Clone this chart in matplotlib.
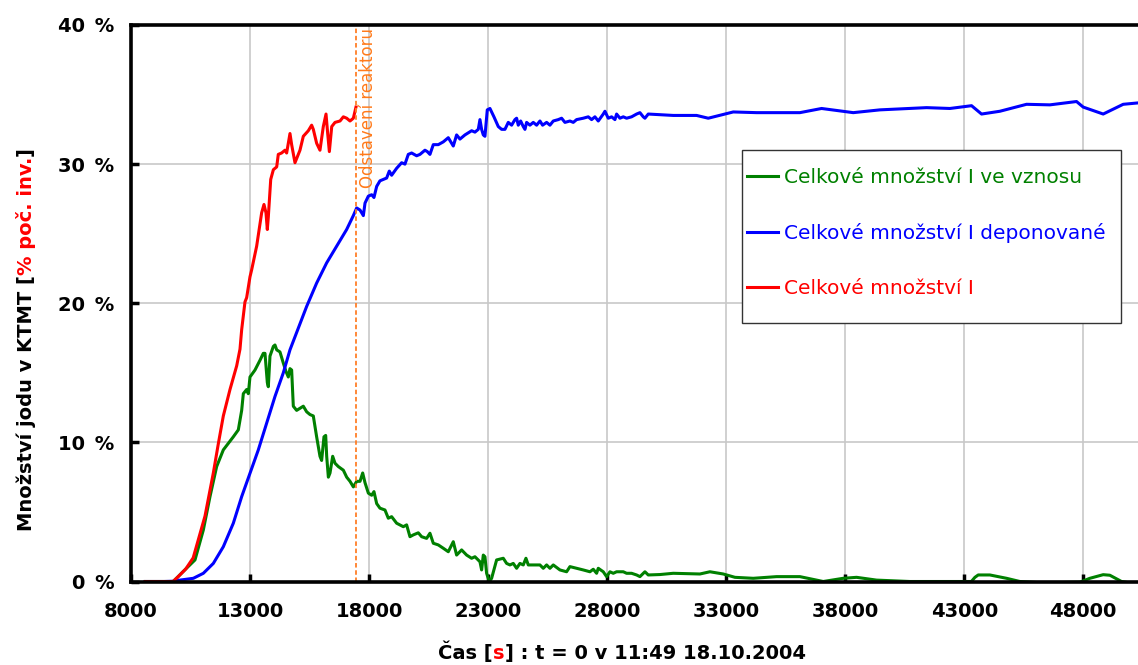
import numpy as np
import matplotlib
matplotlib.use("Agg")
import matplotlib.pyplot as plt
from matplotlib.patches import Rectangle

# time axis [s], values in % of initial inventory
t_green = [8600, 9770, 9980, 10300, 10688, 11038, 11318, 11598, 11878, 12298,
           12508, 12649, 12718, 12858, 12928, 12998, 13208, 13418, 13558, 13628,
           13726, 13768, 13838, 13980, 14048, 14120, 14258, 14398, 14510, 14608,
           14678, 14748, 14818, 14958, 15238, 15378, 15518, 15658, 15798, 15938,
           16008, 16106, 16178, 16220, 16290, 16360, 16472, 16570, 16710, 16920,
           17060, 17200, 17340, 17480, 17620, 17732, 17830, 17970, 18110, 18206,
           18320, 18458, 18668, 18808, 18948, 19158, 19438, 19578, 19718, 19858,
           20068, 20208, 20418, 20558, 20698, 20908, 21118, 21328, 21538, 21678,
           21888, 22098, 22308, 22448, 22658, 22728, 22798, 22868, 22938, 23050,
           23148, 23358, 23638, 23778, 23918, 24058, 24198, 24338, 24478, 24590,
           24688, 24898, 25178, 25318, 25458, 25598, 25738, 26018, 26298, 26438,
           26718, 26998, 27278, 27418, 27558, 27628, 27838, 27978, 28118, 28258,
           28398, 28678, 28818, 29028, 29238, 29378, 29588, 29728, 30218, 30778,
           31898, 32318, 32878, 33370, 34138, 35118, 36098, 37078, 37918, 38478,
           39318, 40718, 42398, 43300, 43450, 43588, 44078, 44778, 45338, 46300,
           47858, 48278, 48838, 49118, 49608, 50300]
v_green = [0, 0, 0.35, 0.9, 1.55, 3.7, 6.1, 8.26, 9.46, 10.4,
           10.9, 12.3, 13.5, 13.8, 13.5, 14.7, 15.2, 15.9, 16.4, 16.4,
           14.3, 14.0, 16.2, 16.9, 17.0, 16.65, 16.5, 15.7, 15.1, 14.7,
           15.3, 15.2, 12.6, 12.3, 12.6, 12.2, 12.0, 11.9, 10.4, 9.0,
           8.7, 10.4, 10.5, 9.0, 7.5, 7.8, 9.0, 8.5, 8.26, 8.0,
           7.5, 7.2, 6.8, 7.2, 7.2, 7.8, 7.1, 6.35, 6.2, 6.46,
           5.6, 5.27, 5.14, 4.55, 4.66, 4.19, 3.94, 4.07, 3.22, 3.35,
           3.5, 3.22, 3.1, 3.47, 2.75, 2.63, 2.39, 2.14, 2.86, 1.9,
           2.27, 1.9, 1.67, 1.78, 1.42, 0.83, 1.9, 1.78, 0.59, 0.0,
           0.23, 1.55, 1.67, 1.3, 1.19, 1.3, 0.95, 1.3, 1.19, 1.67,
           1.19, 1.19, 1.19, 0.95, 1.19, 0.95, 1.19, 0.83, 0.7, 1.07,
           0.95, 0.83, 0.7, 0.88, 0.59, 0.95, 0.7, 0.35, 0.7, 0.59,
           0.7, 0.7, 0.59, 0.59, 0.47, 0.35, 0.7, 0.47, 0.5, 0.59,
           0.54, 0.7, 0.54, 0.3, 0.23, 0.35, 0.35, 0.0, 0.23, 0.3,
           0.1, 0.0, 0.0, 0.0, 0.3, 0.47, 0.47, 0.23, 0.0, -0.1,
           -0.05, 0.23, 0.49, 0.45, 0.0, -0.2]

t_blue = [8600, 9400, 9800, 10058, 10618, 11038, 11458, 11878, 12298, 12649,
          12998, 13348, 13698, 14048, 14398, 14678, 14958, 15378, 15798, 16218,
          16638, 17058, 17340, 17480, 17620, 17760, 17830, 17970, 18110, 18206,
          18320, 18458, 18598, 18738, 18850, 18948, 19158, 19368, 19508, 19648,
          19788, 19998, 20138, 20348, 20446, 20558, 20698, 20908, 21118, 21328,
          21468, 21538, 21678, 21818, 22028, 22308, 22448, 22588, 22658, 22728,
          22798, 22868, 22966, 23078, 23246, 23428, 23568, 23708, 23848, 23988,
          24128, 24198, 24268, 24368, 24478, 24548, 24618, 24758, 24898, 25038,
          25178, 25290, 25458, 25598, 25738, 25948, 26088, 26228, 26438, 26578,
          26718, 26998, 27208, 27348, 27488, 27628, 27838, 27908, 28048, 28188,
          28328, 28398, 28538, 28678, 28818, 29028, 29238, 29378, 29518, 29588,
          29728, 30778, 31758, 32248, 33298, 34278, 36098, 37008, 38338, 39458,
          41418, 42398, 43308, 43728, 44498, 45618, 46598, 47718, 47998, 48838,
          49678, 50300]
v_blue = [0, 0, 0.02, 0.1, 0.23, 0.59, 1.3, 2.5, 4.19, 6.1,
          7.78, 9.46, 11.38, 13.3, 15.0, 16.65, 17.9, 19.77, 21.45, 22.9,
          24.1, 25.3, 26.3, 26.85, 26.7, 26.3, 27.2, 27.7, 27.8, 27.6,
          28.4, 28.8, 28.9, 29.0, 29.5, 29.2, 29.7, 30.1, 30.0, 30.7,
          30.8, 30.6, 30.7, 31.0, 30.9, 30.7, 31.4, 31.4, 31.6, 31.9,
          31.5, 31.3, 32.1, 31.8, 32.1, 32.4, 32.3, 32.5, 33.2, 32.5,
          32.1, 32.0, 33.9, 34.0, 33.4, 32.7, 32.5, 32.5, 33.0, 32.8,
          33.2, 33.3, 32.8, 33.1, 32.7, 32.5, 33.0, 32.8, 33.0, 32.8,
          33.1, 32.8, 33.0, 32.8, 33.1, 33.2, 33.3, 33.0, 33.1, 33.0,
          33.2, 33.3, 33.4, 33.2, 33.4, 33.1, 33.6, 33.8, 33.3, 33.4,
          33.2, 33.6, 33.3, 33.4, 33.3, 33.4, 33.6, 33.7, 33.4, 33.3,
          33.6, 33.5, 33.5, 33.3, 33.75, 33.7, 33.7, 34.0, 33.7, 33.9,
          34.06, 34.0, 34.2, 33.6, 33.8, 34.3, 34.26, 34.5, 34.1, 33.6,
          34.3, 34.4]

t_red = [8600, 9770, 9980, 10300, 10612, 11108, 11458, 11668, 11878, 12158,
         12439, 12578, 12649, 12788, 12858, 12998, 13068, 13278, 13488, 13586,
         13670, 13726, 13768, 13869, 13980, 14120, 14187, 14327, 14468, 14538,
         14678, 14748, 14888, 15098, 15238, 15448, 15588, 15658, 15798, 15938,
         16078, 16192, 16262, 16332, 16432, 16570, 16780, 16920, 17060, 17200,
         17340, 17450]
v_red = [0, 0, 0.35, 0.9, 1.7, 4.7, 7.8, 9.9, 11.9, 13.8,
         15.5, 16.7, 18.1, 20.1, 20.4, 21.9, 22.4, 24.1, 26.5, 27.1,
         26.5, 25.3, 26.2, 28.9, 29.6, 29.8, 30.7, 30.8, 31.0, 30.8,
         32.2, 31.4, 30.1, 31.0, 32.0, 32.4, 32.8, 32.5, 31.5, 31.0,
         32.7, 33.6, 32.2, 30.9, 32.7, 33.0, 33.1, 33.4, 33.3, 33.1,
         33.3, 34.1]

labels = ["Celkové množství I ve vznosu",
          "Celkové množství I deponované",
          "Celkové množství I"]
colors = ["#008000", "#0000ff", "#ff0000"]
t_shutdown = 17450
shutdown_label = "Odstavení reaktoru"
xticks = list(range(8000, 48001, 5000))
yticks = [0, 10, 20, 30, 40]

assert len(t_green) == len(v_green)
assert len(t_blue) == len(v_blue)
assert len(t_red) == len(v_red)

fig = plt.figure(figsize=(11.38, 6.65), dpi=100)
ax = fig.add_axes([131/1138, 83.5/665, 1007/1138, 556.5/665])

for tt, vv, lab, col in zip([t_green, t_blue, t_red], [v_green, v_blue, v_red], labels, colors):
    ax.plot(tt, vv, color=col, lw=2.2, label=lab, solid_joinstyle='round')

ax.axvline(t_shutdown, color="#ff7f27", lw=1.3, ls=(0, (2.5, 1.5)))
ax.text(t_shutdown + 110, 39.8, shutdown_label, rotation=90, ha='left', va='top',
        color="#ff7a1a", fontsize=12)

ax.set_xlim(8000, 50300)
ax.set_ylim(0, 40)
ax.set_xticks(xticks)
ax.set_xticklabels([str(x) for x in xticks], fontsize=14, fontweight='bold')
ax.set_yticks(yticks)
ax.set_yticklabels(["%d\u2002%%" % y for y in yticks], fontsize=14, fontweight='bold')
ax.tick_params(direction='in', length=6, width=2.5, color='black')
ax.tick_params(axis='x', pad=15)
ax.tick_params(axis='y', pad=12)
ax.grid(True, color="#c8c8c8", lw=1.2)
ax.set_axisbelow(True)
for s in ['left', 'bottom', 'top']:
    ax.spines[s].set_linewidth(2.6)
ax.spines['right'].set_visible(False)

# legend: frame drawn by hand so the padding matches
ax.add_patch(Rectangle((0.6068, 0.4645), 0.3764, 0.3109, transform=ax.transAxes,
                       facecolor='white', edgecolor='#333333', lw=1.0, zorder=4))
leg = ax.legend(loc='upper left', bbox_to_anchor=(0.6117, 0.7437), fontsize=14.5,
                frameon=False, labelspacing=1.8, handlelength=1.55,
                handletextpad=0.3, borderpad=0, borderaxespad=0)
leg.set_zorder(5)
for txt, col in zip(leg.get_texts(), colors):
    txt.set_color(col)


def colored_label(pieces, rotation=0):
    first = fig.text(0, 0, pieces[0][0], color=pieces[0][1], rotation=rotation,
                     ha='left', va='bottom', fontsize=14, fontweight='bold')
    prev = first
    out = [first]
    for s, c in pieces[1:]:
        xy = (1, 0) if rotation == 0 else (0, 1)
        a = ax.annotate(s, xy=xy, xycoords=prev, ha='left', va='bottom',
                        rotation=rotation, color=c, fontsize=14, fontweight='bold',
                        annotation_clip=False)
        out.append(a)
        prev = a
    return out


xl = colored_label([("Čas [", "black"), ("s", "red"),
                    ("] : t = 0 v 11:49 18.10.2004", "black")])
yl = colored_label([("Množství jodu v KTMT [", "black"), ("% poč. inv.", "red"),
                    ("]", "black")], rotation=90)

fig.canvas.draw()
W, H = 1138, 665
r = fig.canvas.get_renderer()
bx = [t.get_window_extent(r) for t in xl]
width = bx[-1].x1 - bx[0].x0
xl[0].set_position(((622 - width / 2) / W, 2 / H))
by = [t.get_window_extent(r) for t in yl]
height = by[-1].y1 - by[0].y0
yc = H - 339
yl[0].set_position((16 / W, (yc - height / 2) / H))

fig.savefig("out.png", dpi=100)
